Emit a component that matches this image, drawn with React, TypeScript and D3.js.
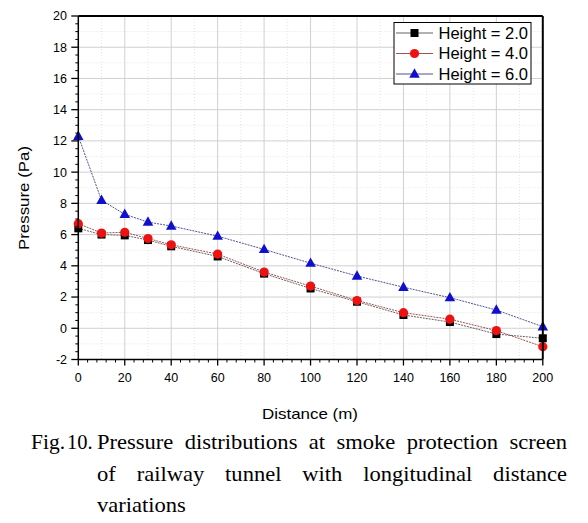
import React from "react";
import * as d3 from "d3";

const distances = [0, 10, 20, 30, 40, 60, 80, 100, 120, 140, 160, 180, 200];
const height2 = [6.4, 6.0, 5.95, 5.65, 5.25, 4.6, 3.5, 2.55, 1.7, 0.85, 0.4, -0.37, -0.64];
const height4 = [6.7, 6.1, 6.15, 5.75, 5.35, 4.75, 3.6, 2.7, 1.78, 1.0, 0.58, -0.15, -1.18];
const height6 = [12.3, 8.2, 7.3, 6.8, 6.55, 5.9, 5.05, 4.17, 3.35, 2.63, 1.96, 1.17, 0.1];
const seriesLabels = ["Height = 2.0", "Height = 4.0", "Height = 6.0"];
const xTicks = [0, 20, 40, 60, 80, 100, 120, 140, 160, 180, 200];
const yTicks = [-2, 0, 2, 4, 6, 8, 10, 12, 14, 16, 18, 20];
const captionPrefix = ["Fig.", "10."];
const captionLines = [
  "Pressure distributions at smoke protection screen",
  "of railway tunnel with longitudinal distance",
  "variations",
];

const W = 588, H = 523;
const left = 78.3, right = 542.8, top = 16, bottom = 359.5;

const CAP_FS = 20.5;
const CAP_SX = 1.1;
const CAP_FONT = `${CAP_FS}px "Liberation Serif", "Times New Roman", serif`;

function measure(word: string): number {
  if (typeof document === "undefined") return word.length * CAP_FS * 0.45;
  const c = document.createElement("canvas");
  const ctx = c.getContext("2d");
  if (!ctx) return word.length * CAP_FS * 0.45;
  ctx.font = CAP_FONT;
  return ctx.measureText(word).width * CAP_SX;
}

function justify(line: string, x0: number, x1: number, doJustify: boolean) {
  const words = line.split(" ");
  const widths = words.map(measure);
  const total = widths.reduce((a, b) => a + b, 0);
  const gap = doJustify && words.length > 1 ? (x1 - x0 - total) / (words.length - 1) : measure(" ");
  const out: { w: string; x: number }[] = [];
  let cx = x0;
  words.forEach((w, i) => {
    out.push({ w, x: cx });
    cx += widths[i] + gap;
  });
  return out;
}

export default function App() {
  const x = d3.scaleLinear().domain([0, 200]).range([left, right]);
  const y = d3.scaleLinear().domain([-2, 20]).range([bottom, top]);
  const series = [
    { vals: height2, fill: "#000000", line: "#505050", shape: "square" },
    { vals: height4, fill: "#ee1111", line: "#904040", shape: "circle" },
    { vals: height6, fill: "#1010cc", line: "#404080", shape: "triangle" },
  ];
  const line = d3.line<[number, number]>().x(d => x(d[0])).y(d => y(d[1]));
  const xMinor = d3.range(0, 201, 4).filter(v => v % 20 !== 0);
  const yMinor = d3.range(-2, 20.01, 0.5).filter(v => Math.abs(v % 2) > 0.01);
  const xMinorGrid = d3.range(10, 200, 20);
  const yMinorGrid = d3.range(-1, 20, 2);
  const marker = (shape: string, cx: number, cy: number, fill: string, key: any) => {
    if (shape === "square")
      return <rect key={key} x={cx - 4} y={cy - 4} width={8} height={8} fill={fill} />;
    if (shape === "circle")
      return <circle key={key} cx={cx} cy={cy} r={4.6} fill={fill} />;
    const s = 10.5;
    return (
      <path key={key}
        d={`M${cx},${cy - s * 0.55}L${cx + s / 2},${cy + s * 0.35}L${cx - s / 2},${cy + s * 0.35}Z`}
        fill={fill} />
    );
  };
  const sans = "Arial, 'Liberation Sans', sans-serif";
  const serif = "'Liberation Serif', 'Times New Roman', serif";
  const capBase = [449, 480.5, 512];
  const capWords = [
    justify(captionLines[0], 97, 567, true),
    justify(captionLines[1], 97, 567, true),
    justify(captionLines[2], 97, 567, false),
  ];
  return (
    <svg width={W} height={H} style={{ position: "absolute", left: 0, top: 0, background: "#fff" }}>
      <rect x={0} y={0} width={W} height={H} fill="#fff" />
      {/* minor grid */}
      {xMinorGrid.map(v => (
        <line key={"xmg" + v} x1={x(v)} x2={x(v)} y1={top} y2={bottom} stroke="#d8d8d8" strokeWidth={0.7} strokeDasharray="1,2" />
      ))}
      {yMinorGrid.map(v => (
        <line key={"ymg" + v} x1={left} x2={right} y1={y(v)} y2={y(v)} stroke="#d8d8d8" strokeWidth={0.7} strokeDasharray="1,2" />
      ))}
      {/* major grid */}
      {xTicks.slice(1, -1).map(v => (
        <line key={"xg" + v} x1={x(v)} x2={x(v)} y1={top} y2={bottom} stroke="#d0d0d0" strokeWidth={1} />
      ))}
      {yTicks.slice(1, -1).map(v => (
        <line key={"yg" + v} x1={left} x2={right} y1={y(v)} y2={y(v)} stroke="#d0d0d0" strokeWidth={1} />
      ))}
      {/* lines */}
      {series.map((s, i) => (
        <path key={"l" + i}
          d={line(distances.map((d, j) => [d, s.vals[j]] as [number, number])) || ""}
          fill="none" stroke={s.line} strokeWidth={0.9} strokeDasharray="2,1" />
      ))}
      {/* markers */}
      {series.map((s, i) => (
        <g key={"m" + i}>
          {distances.map((d, j) => marker(s.shape, x(d), y(s.vals[j]), s.fill, j))}
        </g>
      ))}
      {/* frame */}
      <line x1={left} x2={right} y1={top} y2={top} stroke="#000" strokeWidth={2} />
      <line x1={right} x2={right} y1={top} y2={bottom} stroke="#000" strokeWidth={2} />
      <line x1={left} x2={left} y1={top} y2={bottom} stroke="#000" strokeWidth={1.5} />
      <line x1={left} x2={right} y1={bottom} y2={bottom} stroke="#000" strokeWidth={1.5} />
      {/* ticks */}
      {xTicks.map(v => (
        <g key={"xt" + v}>
          <line x1={x(v)} x2={x(v)} y1={bottom} y2={bottom + 6} stroke="#000" strokeWidth={1.3} />
          <text x={x(v)} y={382} textAnchor="middle" fontFamily={sans} fontSize={12.5}>{v}</text>
        </g>
      ))}
      {xMinor.map(v => (
        <line key={"xm" + v} x1={x(v)} x2={x(v)} y1={bottom} y2={bottom + 3} stroke="#000" strokeWidth={1} />
      ))}
      {yTicks.map(v => (
        <g key={"yt" + v}>
          <line x1={left - 7} x2={left} y1={y(v)} y2={y(v)} stroke="#000" strokeWidth={1.3} />
          <text x={67} y={y(v) + 4.4} textAnchor="end" fontFamily={sans} fontSize={12.5}>{v}</text>
        </g>
      ))}
      {yMinor.map(v => (
        <line key={"ym" + v} x1={left - 3} x2={left} y1={y(v)} y2={y(v)} stroke="#000" strokeWidth={1} />
      ))}
      {/* axis titles */}
      <text x={310} y={419} textAnchor="middle" fontFamily={sans} fontSize={15} textLength={96} lengthAdjust="spacingAndGlyphs">Distance (m)</text>
      <text transform={`translate(29,198) rotate(-90)`} textAnchor="middle" fontFamily={sans} fontSize={15} textLength={104} lengthAdjust="spacingAndGlyphs">Pressure (Pa)</text>
      {/* legend */}
      <rect x={394} y={22.5} width={137} height={61.5} fill="#fff" stroke="#000" strokeWidth={1} />
      {series.map((s, i) => {
        const ly = 33 + i * 20.5;
        return (
          <g key={"lg" + i}>
            <line x1={396} x2={433} y1={ly} y2={ly} stroke={s.line} strokeWidth={0.9} />
            {marker(s.shape, 414.5, ly, s.fill, "lm")}
            <text x={438.5} y={ly + 5.8} fontFamily={sans} fontSize={16} textLength={89.5} lengthAdjust="spacingAndGlyphs">{seriesLabels[i]}</text>
          </g>
        );
      })}
      {/* caption */}
      <g fontFamily={serif} fontSize={CAP_FS} fill="#000">
        <text transform={`translate(31,${capBase[0]}) scale(1.05,1)`}>{captionPrefix[0]}</text>
        <text transform={`translate(67,${capBase[0]})`}>{captionPrefix[1]}</text>
        {capWords.map((ws, li) =>
          ws.map((w, wi) => (
            <text key={li + "-" + wi} transform={`translate(${w.x},${capBase[li]}) scale(${CAP_SX},1)`}>{w.w}</text>
          ))
        )}
      </g>
    </svg>
  );
}
